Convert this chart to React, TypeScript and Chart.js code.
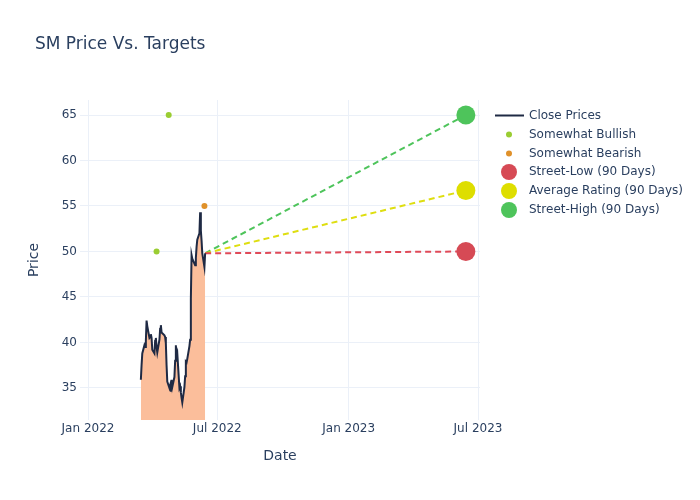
import React, { useEffect, useRef } from "react";
import { Chart, registerables } from "chart.js";

Chart.register(...registerables);

const chartTitle = "SM Price Vs. Targets";
const xTitle = "Date";
const yTitle = "Price";

const priceDates = [
  "2022-03-16", "2022-03-17", "2022-03-18", "2022-03-21", "2022-03-22", "2022-03-23", "2022-03-24", "2022-03-25",
  "2022-03-28", "2022-03-29", "2022-03-30", "2022-03-31", "2022-04-01", "2022-04-04", "2022-04-05", "2022-04-06",
  "2022-04-07", "2022-04-08", "2022-04-11", "2022-04-12", "2022-04-13", "2022-04-14", "2022-04-18", "2022-04-19",
  "2022-04-20", "2022-04-21", "2022-04-22", "2022-04-25", "2022-04-26", "2022-04-27", "2022-04-28", "2022-04-29",
  "2022-05-02", "2022-05-03", "2022-05-04", "2022-05-05", "2022-05-06", "2022-05-09", "2022-05-10", "2022-05-11",
  "2022-05-12", "2022-05-13", "2022-05-16", "2022-05-17", "2022-05-18", "2022-05-19", "2022-05-20", "2022-05-23",
  "2022-05-24", "2022-05-25", "2022-05-26", "2022-05-27", "2022-05-31", "2022-06-01", "2022-06-02", "2022-06-03",
  "2022-06-06", "2022-06-07", "2022-06-08", "2022-06-09", "2022-06-10", "2022-06-13", "2022-06-14",
];
const closePrices = [
  35.9, 37.5, 38.8, 39.7, 39.5, 40.2, 42.4, 41.8,
  40.5, 40.6, 40.9, 40.5, 39.2, 38.8, 40.2, 40.5,
  39.5, 38.9, 40.3, 41.5, 41.9, 41.1, 40.8, 40.6,
  39.9, 37.5, 35.7, 35.0, 35.3, 34.6, 35.9, 35.1,
  36.2, 38.0, 39.7, 38.5, 38.8, 35.0, 35.2, 34.5,
  33.9, 33.4, 35.1, 36.3, 37.9, 37.8, 38.2, 39.6,
  40.3, 44.8, 49.6, 49.2, 48.5, 49.3, 50.5, 51.3,
  52.0, 54.3, 52.3, 51.2, 49.8, 48.3, 49.8,
];

const bullishDates = ["2022-04-07", "2022-04-24"];
const bullishValues = [50, 65];
const bearishDates = ["2022-06-13"];
const bearishValues = [55];

const targetDate = "2023-06-14";
const streetLow = 50;
const averageRating = 56.7;
const streetHigh = 65;

const xTickDates = ["2022-01-01", "2022-07-01", "2023-01-01", "2023-07-01"];
const xTickLabels = ["Jan 2022", "Jul 2022", "Jan 2023", "Jul 2023"];
const yTickValues = [35, 40, 45, 50, 55, 60, 65];

const legendLabels = [
  "Close Prices",
  "Somewhat Bullish",
  "Somewhat Bearish",
  "Street-Low (90 Days)",
  "Average Rating (90 Days)",
  "Street-High (90 Days)",
];

const DAY = 86400000;
const t = (d: string) => Date.parse(d + "T00:00:00Z");

const NAVY = "#1f2a44";
const TEXT = "#2a3f5f";
const GRID = "#ebf0f8";
const FILL = "rgb(251,190,155)";
const BULL = "#9acd32";
const BEAR = "#e0912a";
const RED = "#d64a55";
const YELLOW = "#dede00";
const GREEN = "#4ec45b";
const FONT = "'DejaVu Sans', sans-serif";

export default function App() {
  const ref = useRef<HTMLCanvasElement | null>(null);

  useEffect(() => {
    if (!ref.current) return;
    const lastDate = priceDates[priceDates.length - 1];
    const lastPrice = closePrices[closePrices.length - 1];

    const overlay = {
      id: "overlay",
      afterDraw(chart: any) {
        const ctx = chart.ctx;
        ctx.save();
        ctx.fillStyle = TEXT;
        ctx.font = `17px ${FONT}`;
        ctx.textBaseline = "middle";
        ctx.textAlign = "left";
        ctx.fillText(chartTitle, 35, 45);

        const rows = [115.5, 134.5, 153.5, 172, 191, 210];
        const cx = 509;
        ctx.strokeStyle = NAVY;
        ctx.lineWidth = 2;
        ctx.beginPath();
        ctx.moveTo(495, rows[0]);
        ctx.lineTo(524, rows[0]);
        ctx.stroke();
        const dots = [
          [BULL, 3],
          [BEAR, 3],
          [RED, 8],
          [YELLOW, 8],
          [GREEN, 8],
        ] as [string, number][];
        dots.forEach(([c, r], i) => {
          ctx.fillStyle = c;
          ctx.beginPath();
          ctx.arc(cx, rows[i + 1], r, 0, Math.PI * 2);
          ctx.fill();
        });
        ctx.fillStyle = TEXT;
        ctx.font = `12px ${FONT}`;
        legendLabels.forEach((l, i) => ctx.fillText(l, 529, rows[i]));
        ctx.restore();
      },
    };

    const chart = new Chart(ref.current, {
      type: "scatter",
      data: {
        datasets: [
          {
            label: "Somewhat Bullish",
            data: bullishDates.map((d, i) => ({ x: t(d), y: bullishValues[i] })),
            backgroundColor: BULL,
            borderWidth: 0,
            pointRadius: 3,
          },
          {
            label: "Somewhat Bearish",
            data: bearishDates.map((d, i) => ({ x: t(d), y: bearishValues[i] })),
            backgroundColor: BEAR,
            borderWidth: 0,
            pointRadius: 3,
          },
          {
            label: "Street-Low (90 Days)",
            data: [{ x: t(targetDate), y: streetLow }],
            backgroundColor: RED,
            borderWidth: 0,
            pointRadius: 9.5,
          },
          {
            label: "Average Rating (90 Days)",
            data: [{ x: t(targetDate), y: averageRating }],
            backgroundColor: YELLOW,
            borderWidth: 0,
            pointRadius: 9.5,
          },
          {
            label: "Street-High (90 Days)",
            data: [{ x: t(targetDate), y: streetHigh }],
            backgroundColor: GREEN,
            borderWidth: 0,
            pointRadius: 9.5,
          },
          {
            label: "Close Prices",
            data: priceDates.map((d, i) => ({ x: t(d), y: closePrices[i] })),
            showLine: true,
            borderColor: NAVY,
            borderWidth: 2,
            pointRadius: 0,
            fill: "start",
            backgroundColor: FILL,
            tension: 0,
          },
          ...[
            [streetLow, "#e04a58"],
            [averageRating, "#dede10"],
            [streetHigh, "#4ec45b"],
          ].map(([v, c]) => ({
            label: "dash",
            data: [
              { x: t(lastDate), y: lastPrice },
              { x: t(targetDate), y: v as number },
            ],
            showLine: true,
            borderColor: c as string,
            borderWidth: 2,
            borderDash: [6, 4],
            pointRadius: 0,
            fill: false,
          })),
        ],
      },
      options: {
        animation: false,
        responsive: false,
        maintainAspectRatio: false,
        layout: { padding: { top: 100, right: 220, left: 0, bottom: 0 } },
        plugins: {
          legend: { display: false },
          title: { display: false },
          tooltip: { enabled: false },
        },
        scales: {
          x: {
            type: "linear",
            min: t("2022-01-01") - 11.2 * DAY,
            max: t("2022-01-01") + 548.8 * DAY,
            afterFit: (s: any) => {
              s.height = 80;
            },
            afterBuildTicks: (s: any) => {
              s.ticks = xTickDates.map((d) => ({ value: t(d) }));
            },
            ticks: {
              color: TEXT,
              font: { family: FONT, size: 12 },
              padding: 2,
              maxRotation: 0,
              autoSkip: false,
              callback: (v: any) => {
                const i = xTickDates.findIndex((d) => t(d) === v);
                return i >= 0 ? xTickLabels[i] : "";
              },
            },
            grid: { color: GRID, drawTicks: false, lineWidth: 1 },
            border: { display: false },
            title: {
              display: true,
              text: xTitle,
              color: TEXT,
              font: { family: FONT, size: 14 },
              padding: { top: 0, bottom: 35.6 },
            },
          },
          y: {
            type: "linear",
            min: 31.48,
            max: 66.65,
            afterFit: (s: any) => {
              s.width = 80;
            },
            afterBuildTicks: (s: any) => {
              s.ticks = yTickValues.map((v) => ({ value: v }));
            },
            ticks: {
              color: TEXT,
              font: { family: FONT, size: 12 },
              padding: 3,
            },
            grid: { color: GRID, drawTicks: false, lineWidth: 1 },
            border: { display: false },
            title: {
              display: true,
              text: yTitle,
              color: TEXT,
              font: { family: FONT, size: 14 },
              padding: { top: 25.6, bottom: 0 },
            },
          },
        },
      },
      plugins: [overlay],
    } as any);
    return () => chart.destroy();
  }, []);

  return (
    <div style={{ position: "fixed", left: 0, top: 0, width: 700, height: 500, background: "#fff" }}>
      <canvas ref={ref} width={700} height={500} style={{ width: 700, height: 500 }} />
    </div>
  );
}
